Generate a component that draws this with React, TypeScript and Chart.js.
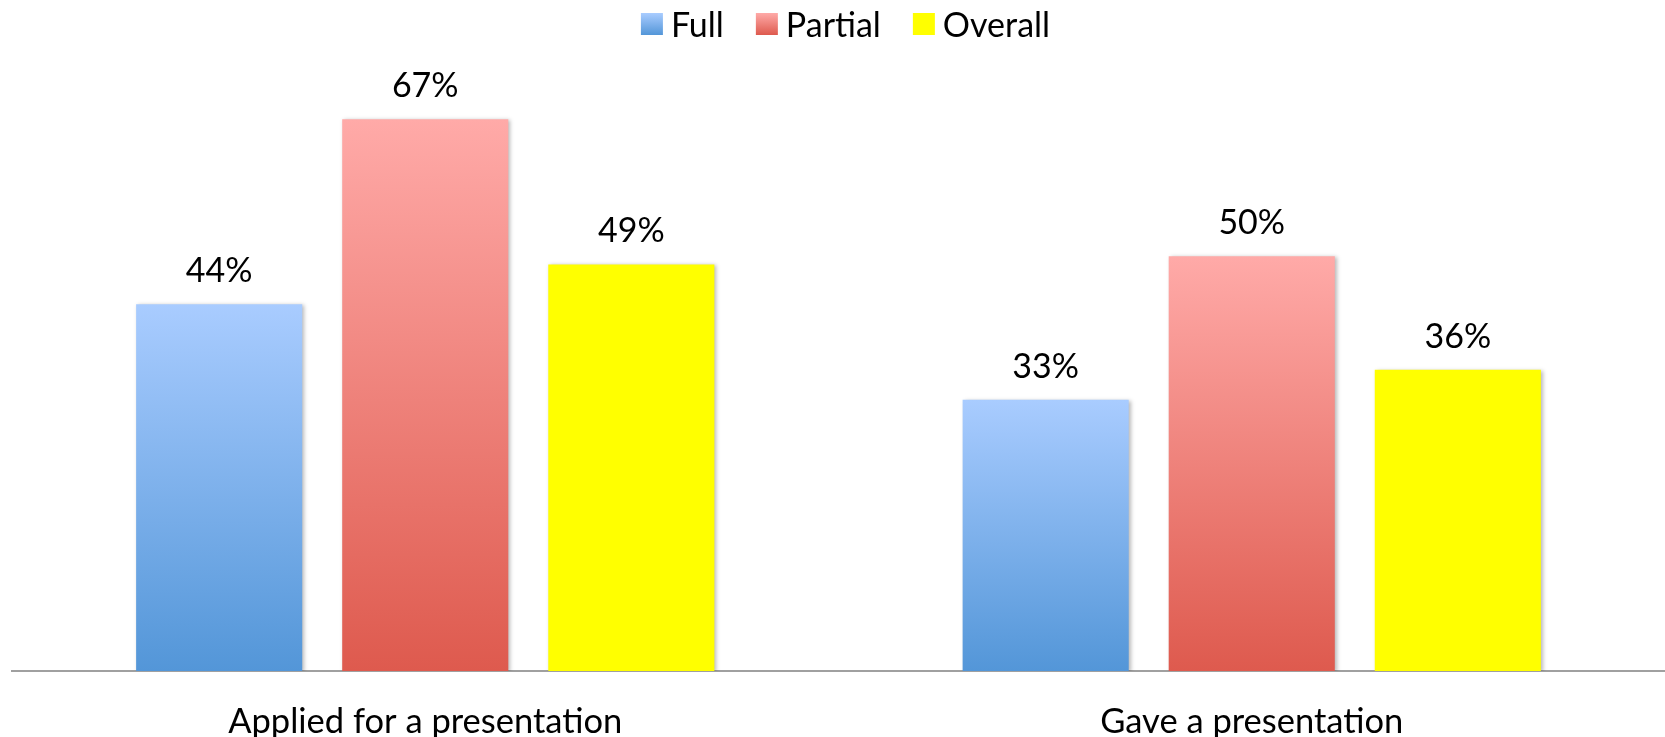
import React, { useEffect, useRef } from "react";
import { Chart, registerables } from "chart.js";

Chart.register(...registerables);

const categories = ["Applied for a presentation", "Gave a presentation"];
const seriesNames = ["Full", "Partial", "Overall"];
const fullValues = [44.2, 32.7];
const partialValues = [66.5, 50];
const overallValues = [49, 36.3];

const FONT = "Lato, 'Open Sans', sans-serif";

const palettes: [string, string][] = [
  ["#A9CCFF", "#5396D8"],
  ["#FFAAA8", "#DE5A4E"],
  ["#FFFF00", "#FFFF00"],
];

function barGradient(ctx: any, idx: number) {
  const chart = ctx.chart;
  const [top, bottom] = palettes[idx];
  if (!chart.chartArea || !chart.scales || !chart.scales.y || ctx.type !== "data") return bottom;
  const y = chart.scales.y;
  const v = ctx.raw as number;
  const y0 = y.getPixelForValue(v);
  const y1 = y.getPixelForValue(0);
  if (!isFinite(y0) || !isFinite(y1) || y0 === y1) return bottom;
  const g = chart.ctx.createLinearGradient(0, y0, 0, y1);
  g.addColorStop(0, top);
  g.addColorStop(1, bottom);
  return g;
}

const shadowPlugin = {
  id: "barShadow",
  beforeDatasetsDraw(chart: any) {
    const c = chart.ctx;
    c.save();
    c.shadowColor = "rgba(0,0,0,0.28)";
    c.shadowBlur = 4;
    c.shadowOffsetX = 2;
    c.shadowOffsetY = 1;
  },
  afterDatasetsDraw(chart: any) {
    chart.ctx.restore();
  },
};

const valueLabelPlugin = {
  id: "valueLabels",
  afterDatasetsDraw(chart: any) {
    const c = chart.ctx;
    c.save();
    c.font = `34px ${FONT}`;
    c.fillStyle = "#000000";
    c.textAlign = "center";
    c.textBaseline = "alphabetic";
    chart.data.datasets.forEach((ds: any, di: number) => {
      const meta = chart.getDatasetMeta(di);
      meta.data.forEach((bar: any, i: number) => {
        c.fillText(`${Math.round(ds.data[i])}%`, bar.x, bar.y - 22);
      });
    });
    c.restore();
  },
};

// Legend drawn as real canvas text, with Excel-like spacing
const legendPlugin = {
  id: "customLegend",
  afterDraw(chart: any) {
    const c = chart.ctx;
    c.save();
    c.font = `34px ${FONT}`;
    c.textBaseline = "alphabetic";
    c.textAlign = "left";
    const box = 22;
    const boxGap = 8;
    const itemGap = 32;
    const widths = seriesNames.map((n) => c.measureText(n).width);
    const total =
      widths.reduce((a, w) => a + box + boxGap + w, 0) + itemGap * (seriesNames.length - 1);
    const center = (chart.chartArea.left + chart.chartArea.right) / 2 + 7;
    let x = center - total / 2;
    const boxTop = 13;
    const baseline = 37;
    seriesNames.forEach((name, i) => {
      const [top, bottom] = palettes[i];
      const g = c.createLinearGradient(0, boxTop, 0, boxTop + box);
      g.addColorStop(0, top);
      g.addColorStop(1, bottom);
      c.fillStyle = g;
      c.fillRect(x, boxTop, box, box);
      x += box + boxGap;
      c.fillStyle = "#000000";
      c.fillText(name, x, baseline);
      x += widths[i] + itemGap;
    });
    c.restore();
  },
};

export default function App() {
  const ref = useRef<HTMLCanvasElement | null>(null);

  useEffect(() => {
    document.body.style.margin = "0";
    const canvas = ref.current;
    if (!canvas) return;
    const seriesValues = [fullValues, partialValues, overallValues];
    const chart = new Chart(canvas, {
      type: "bar",
      data: {
        labels: categories,
        datasets: seriesNames.map((name, idx) => ({
          label: name,
          data: seriesValues[idx],
          backgroundColor: (ctx: any) => barGradient(ctx, idx),
          borderWidth: 0,
          categoryPercentage: 0.748,
          barPercentage: 0.806,
        })),
      },
      options: {
        animation: false,
        responsive: false,
        devicePixelRatio: 1,
        layout: { padding: { left: 12, right: -3, top: 57, bottom: 0 } },
        plugins: {
          tooltip: { enabled: false },
          legend: { display: false },
        },
        scales: {
          x: {
            grid: { display: false, drawTicks: false },
            border: { display: true, color: "#A0A0A0", width: 2 },
            afterFit: (scale: any) => {
              scale.height = 66;
            },
            ticks: {
              color: "#000000",
              padding: 30,
              font: { family: FONT, size: 34.5 },
              maxRotation: 0,
            },
          },
          y: {
            display: false,
            min: 0,
            max: 74,
          },
        },
      },
      plugins: [shadowPlugin, valueLabelPlugin, legendPlugin],
    });
    return () => chart.destroy();
  }, []);

  return (
    <div style={{ width: 1665, height: 737, position: "relative", overflow: "hidden" }}>
      <canvas ref={ref} width={1665} height={737} style={{ display: "block" }} />
    </div>
  );
}
